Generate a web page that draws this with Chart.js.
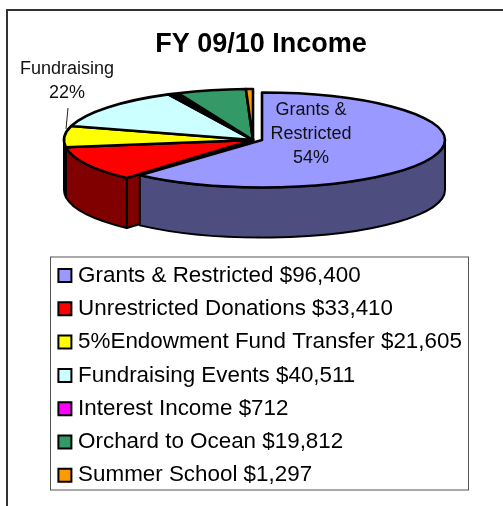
<!DOCTYPE html>
<html>
<head>
<meta charset="utf-8">
<style>html,body{margin:0;padding:0;background:#fff}canvas{display:block}</style>
<script src="https://cdn.jsdelivr.net/npm/chart.js@4/dist/chart.umd.min.js"></script>
</head>
<body>
<canvas id="c" width="503" height="506"></canvas>
<script>
const categories = ["Grants & Restricted","Unrestricted Donations","5%Endowment Fund Transfer","Fundraising Events","Interest Income","Orchard to Ocean","Summer School"];
const amounts = ["$96,400","$33,410","$21,605","$40,511","$712","$19,812","$1,297"];
// share of the drawn pie, in percent
const sliceShares = [61.7,11.1,6.7,13.2,0.9,5.9,0.6];
const legendColors = ["#9999FF","#FF0000","#FFFF00","#CCFFFF","#FF00FF","#339966","#FF9900"];
const sliceColors = ["#9999FF","#FF0000","#FFFF00","#CCFFFF","#000000","#339966","#FF9900"];
const wallColors = ["#4D4D80","#800000","#555500","#668080","#000000","#1A4D33","#804D00"];
const titleText = "FY 09/10 Income";
const FONT = '"Liberation Sans", Arial, sans-serif';

const GROUP = {cx:253, cy:140, rx:189, ry:51};
const EXPLODED = {cx:262, cy:140, rx:183, ry:47.5};
const DEPTH = 50;

const pie3d = {
  id:'pie3d',
  afterLayout(chart){
    const t = chart.titleBlock;
    t.left = 2*261 - t.right;
  },
  beforeDraw(chart){
    const c = chart.ctx;
    c.save();
    c.fillStyle='#fff'; c.fillRect(0,0,chart.width,chart.height);
    c.strokeStyle='#333'; c.lineWidth=2;
    c.beginPath(); c.moveTo(503,10); c.lineTo(7,10); c.lineTo(7,506); c.stroke();
    c.strokeStyle='#555'; c.lineWidth=1;
    c.strokeRect(50.5,257,418,233);
    c.restore();
  },
  beforeDatasetDraw(chart,args){
    const c = chart.ctx, arcs = args.meta.data;
    const geo = i => i===0 ? EXPLODED : GROUP;
    const drawFaces = i => {
      const g = geo(i), a = arcs[i], d = DEPTH;
      c.fillStyle = wallColors[i]; c.strokeStyle='#000'; c.lineWidth=2; c.lineJoin='round';
      [[a.startAngle,-Math.PI/2],[a.endAngle,Math.PI/2]].forEach(([ang,n])=>{
        if(Math.sin(ang+n)>0.01){
          const x=g.cx+g.rx*Math.cos(ang), y=g.cy+g.ry*Math.sin(ang);
          c.beginPath(); c.moveTo(g.cx,g.cy); c.lineTo(x,y); c.lineTo(x,y+d); c.lineTo(g.cx,g.cy+d); c.closePath();
          c.fill(); c.stroke();
        }
      });
    };
    const drawWall = i => {
      const g = geo(i), a = arcs[i];
      const a0=Math.max(a.startAngle,0), a1=Math.min(a.endAngle,Math.PI);
      if(a1<=a0) return;
      c.fillStyle = wallColors[i]; c.strokeStyle='#000'; c.lineWidth=2; c.lineJoin='round';
      c.beginPath();
      c.ellipse(g.cx,g.cy,g.rx,g.ry,0,a0,a1);
      c.ellipse(g.cx,g.cy+DEPTH,g.rx,g.ry,0,a1,a0,true);
      c.closePath(); c.fill(); c.stroke();
    };
    const drawTop = i => {
      const g = geo(i), a = arcs[i];
      c.save();
      c.translate(g.cx,g.cy);
      c.scale(g.rx/a.outerRadius,g.ry/a.outerRadius);
      c.translate(-a.x,-a.y);
      a.draw(c);
      c.restore();
      c.strokeStyle='#000'; c.lineWidth=2.6; c.lineJoin='round';
      c.beginPath();
      c.moveTo(g.cx,g.cy);
      c.ellipse(g.cx,g.cy,g.rx,g.ry,0,a.startAngle,a.endAngle);
      c.closePath(); c.stroke();
    };
    const rest = [1,2,3,4,5,6];
    rest.slice().reverse().forEach(drawFaces); rest.forEach(drawWall); rest.forEach(drawTop);
    drawFaces(0); drawWall(0); drawTop(0);
    return false;
  },
  afterDraw(chart){
    const c = chart.ctx;
    c.save();
    c.fillStyle='#111'; c.font='18px '+FONT; c.textAlign='center'; c.textBaseline='middle';
    [["Grants &",311,110],["Restricted",311,134],["54%",311,158],["Fundraising",67,69],["22%",67,93]]
      .forEach(([t,x,y])=>c.fillText(t,x,y));
    c.strokeStyle='#222'; c.lineWidth=1;
    c.beginPath(); c.moveTo(68,108); c.lineTo(66,129); c.stroke();
    c.restore();
  }
};

new Chart(document.getElementById('c'),{
  type:'pie',
  data:{
    labels:categories.map((n,i)=>n+' '+amounts[i]),
    datasets:[{data:sliceShares,backgroundColor:sliceColors,borderWidth:0,radius:189,clip:false}]
  },
  options:{
    responsive:false,
    animation:false,
    events:[],
    layout:{padding:{left:52,right:20,top:0,bottom:0}},
    plugins:{
      tooltip:{enabled:false},
      title:{display:true,text:titleText,color:'#000',
        font:{family:FONT,size:27,weight:'bold',lineHeight:1.2},
        padding:{top:28,bottom:193}},
      legend:{
        position:'left',align:'start',maxWidth:420,fullSize:false,
        labels:{
          usePointStyle:true,pointStyle:'rect',boxWidth:4,boxHeight:13,padding:10.9,
          color:'#000',font:{family:FONT,size:22.4,lineHeight:1},
          generateLabels(chart){
            return chart.data.labels.map((t,i)=>({text:t,fillStyle:legendColors[i],strokeStyle:'#000',lineWidth:2,pointStyle:'rect',hidden:false,index:i,fontColor:'#000'}));
          }
        }
      }
    }
  },
  plugins:[pie3d]
});
</script>
</body>
</html>
